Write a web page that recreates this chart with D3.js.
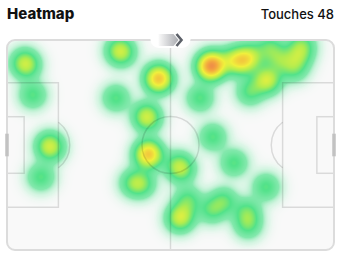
<!DOCTYPE html>
<html>
<head>
<meta charset="utf-8">
<script src="https://cdn.jsdelivr.net/npm/d3@7"></script>
<style>
  body { margin: 0; background: #fff; }
  svg { display: block; font-family: Inter, "Noto Sans", sans-serif; }
</style>
</head>
<body>
<div id="chart"></div>
<script>
// touch positions in metres on a 105 x 68 pitch (attacking to the right)
var touchX = [5.5, 6.4, 8.3, 13.5, 14.1, 10.9, 36.0, 36.9, 48.5, 49.1, 48.5, 35.0,
              44.6, 45.3, 45.3, 46.0, 45.0, 40.5, 43.4, 54.9, 56.2, 55.2, 56.2, 58.1,
              66.1, 72.9, 83.2, 69.7, 65.8, 77.1, 77.4, 64.9, 65.8, 65.2, 66.5, 74.8,
              76.4, 72.2, 78.7, 84.5, 82.8, 84.1, 94.7, 93.8, 92.2, 62.0, 78.0, 87.7];
var touchY = [7.1, 8.4, 17.8, 34.0, 35.0, 44.4, 3.2, 4.2, 12.0, 12.6, 13.0, 18.8,
              24.3, 25.6, 36.3, 37.2, 37.6, 46.3, 46.6, 40.5, 42.1, 58.0, 57.0, 51.8,
              31.4, 39.8, 47.6, 52.1, 55.0, 55.7, 59.9, 8.1, 8.7, 9.1, 7.8, 7.1,
              6.5, 6.5, 5.2, 2.6, 13.0, 13.0, 1.6, 4.9, 9.1, 18.8, 16.8, 6.5];
var title = "Heatmap";
var touchLabel = "Touches";

var width = 346, height = 267;
var pitch = {left: 7, right: 334, top: 40, bottom: 250};

var x = d3.scaleLinear().domain([0, 105]).range([pitch.left, pitch.right]);
var y = d3.scaleLinear().domain([0, 68]).range([pitch.top, pitch.bottom]);

var svg = d3.select("#chart").append("svg")
    .attr("width", width)
    .attr("height", height);

// header
svg.append("text")
    .attr("x", 7).attr("y", 19)
    .style("font-size", "15px").style("font-weight", 800)
    .attr("fill", "#111")
    .text(title);
svg.append("text")
    .attr("x", 334).attr("y", 19)
    .attr("text-anchor", "end")
    .style("font-size", "13px")
    .style("font-weight", 500)
    .attr("fill", "#111")
    .text(touchLabel + " " + touchX.length);

var defs = svg.append("defs");
defs.append("clipPath").attr("id", "pitchClip")
  .append("rect")
    .attr("x", pitch.left).attr("y", pitch.top)
    .attr("width", pitch.right - pitch.left)
    .attr("height", pitch.bottom - pitch.top)
    .attr("rx", 8);

svg.append("rect")
    .attr("x", pitch.left).attr("y", pitch.top)
    .attr("width", pitch.right - pitch.left)
    .attr("height", pitch.bottom - pitch.top)
    .attr("rx", 8)
    .attr("fill", "#f9f9f9");

// heatmap: sum gaussian kernels, then colour the density
var W = pitch.right - pitch.left, H = pitch.bottom - pitch.top;
var sigma = 9;
var grid = new Float32Array(W * H);
touchX.forEach(function(tx, i) {
  var cx = x(tx) - pitch.left, cy = y(touchY[i]) - pitch.top;
  var r = Math.ceil(sigma * 4);
  for (var py = Math.max(0, Math.floor(cy - r)); py < Math.min(H, cy + r); py++) {
    for (var px = Math.max(0, Math.floor(cx - r)); px < Math.min(W, cx + r); px++) {
      var dx = px + 0.5 - cx, dy = py + 0.5 - cy;
      grid[py * W + px] += Math.exp(-(dx * dx + dy * dy) / (2 * sigma * sigma));
    }
  }
});

var color = d3.scaleLinear()
    .domain([0, 0.08, 0.38, 0.95, 1.6, 2.3, 3.4, 4.6])
    .range(["rgba(210,246,226,0)", "rgba(200,244,218,0.55)", "rgba(120,230,165,0.92)",
            "rgb(82,226,138)", "rgb(175,236,80)", "rgb(240,240,60)",
            "rgb(244,172,62)", "rgb(232,108,80)"])
    .interpolate(d3.interpolateRgb)
    .clamp(true);

var canvas = document.createElement("canvas");
canvas.width = W; canvas.height = H;
var ctx = canvas.getContext("2d");
var img = ctx.createImageData(W, H);
for (var k = 0; k < grid.length; k++) {
  var c = d3.color(color(grid[k]));
  img.data[k * 4] = c.r;
  img.data[k * 4 + 1] = c.g;
  img.data[k * 4 + 2] = c.b;
  img.data[k * 4 + 3] = Math.round(c.opacity * 255);
}
ctx.putImageData(img, 0, 0);

svg.append("image")
    .attr("x", pitch.left).attr("y", pitch.top)
    .attr("width", W).attr("height", H)
    .attr("href", canvas.toDataURL())
    .attr("clip-path", "url(#pitchClip)");

// pitch markings
var lines = svg.append("g")
    .attr("fill", "none")
    .attr("stroke", "#000")
    .attr("stroke-opacity", 0.12)
    .attr("stroke-width", 1.5);

lines.append("line")
    .attr("x1", x(52.5)).attr("x2", x(52.5))
    .attr("y1", y(0)).attr("y2", y(68));
lines.append("circle")
    .attr("cx", x(52.5)).attr("cy", y(34))
    .attr("r", x(9.15) - x(0));

[[0, 16.5, 13.84, 54.16], [0, 5.5, 24.84, 43.16],
 [105, 88.5, 13.84, 54.16], [105, 99.5, 24.84, 43.16]].forEach(function(b) {
  lines.append("rect")
      .attr("x", x(Math.min(b[0], b[1]))).attr("y", y(b[2]))
      .attr("width", Math.abs(x(b[1]) - x(b[0])))
      .attr("height", y(b[3]) - y(b[2]));
});

var a = Math.acos(5.5 / 9.15);
[[11, 0], [94, Math.PI]].forEach(function(s) {
  var p = d3.path();
  p.arc(x(s[0]), y(34), x(9.15) - x(0), s[1] - a, s[1] + a);
  lines.append("path").attr("d", p.toString());
});

svg.append("rect")
    .attr("x", pitch.left).attr("y", pitch.top)
    .attr("width", pitch.right - pitch.left)
    .attr("height", pitch.bottom - pitch.top)
    .attr("rx", 8)
    .attr("fill", "none")
    .attr("stroke", "#dcdcdc")
    .attr("stroke-width", 2);

// goals
[0, 105].forEach(function(gx) {
  svg.append("line")
      .attr("x1", x(gx)).attr("x2", x(gx))
      .attr("y1", y(30.34)).attr("y2", y(37.66))
      .attr("stroke", "#c2c2c2")
      .attr("stroke-width", 3.5);
});

// direction of play badge
var grad = defs.append("linearGradient").attr("id", "arrowGrad");
grad.append("stop").attr("offset", "0%").attr("stop-color", "#fafafa");
grad.append("stop").attr("offset", "100%").attr("stop-color", "#a9abb0");

var badge = svg.append("g").attr("transform", "translate(" + x(52.5) + "," + (pitch.top) + ")");
badge.append("rect")
    .attr("x", -20).attr("y", -9).attr("width", 40).attr("height", 17)
    .attr("rx", 8.5)
    .attr("fill", "#fff");
badge.append("path")
    .attr("d", "M-12,-6 L3,-6 L8,0 L3,6 L-12,6 Z")
    .attr("fill", "url(#arrowGrad)");
badge.append("path")
    .attr("d", "M6,-6 L11,0 L6,6")
    .attr("fill", "none")
    .attr("stroke", "#5c6068")
    .attr("stroke-width", 2.6);
</script>
</body>
</html>
